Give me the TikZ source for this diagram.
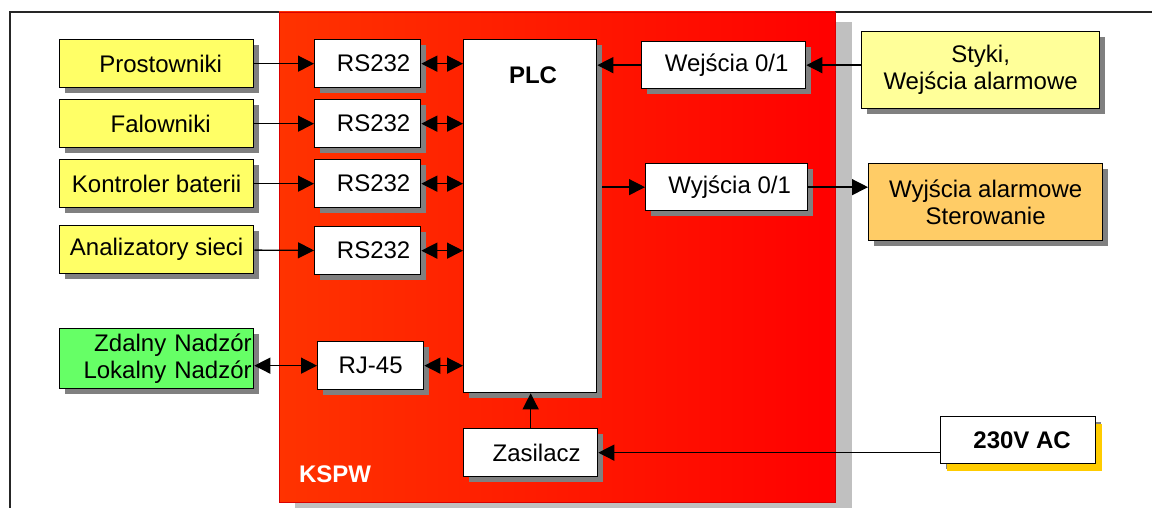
\documentclass[tikz,border=0pt]{standalone}
\usepackage{fontspec}
\setmainfont{Liberation Sans}
\usetikzlibrary{arrows.meta,shadows}
\definecolor{ylw}{HTML}{FFFF66}
\definecolor{ylwpale}{HTML}{FFFF99}
\definecolor{grn}{HTML}{66FF66}
\definecolor{orng}{HTML}{FFCC66}
\definecolor{shgray}{HTML}{808080}
\definecolor{lgray}{HTML}{C0C0C0}
\definecolor{goldsh}{HTML}{FFCC00}
\definecolor{redA}{HTML}{FF3300}
\definecolor{redB}{HTML}{FF0000}
\begin{document}
\begin{tikzpicture}[x=1pt,y=-1pt,
  box/.style={draw=black, line width=1.3pt, fill=white, anchor=north west,
    inner sep=0pt, align=center, font=\fontsize{24}{27}\selectfont,
    drop shadow={shadow xshift=5pt, shadow yshift=-5pt, fill=shgray, opacity=1}},
  ybox/.style={box, fill=ylw},
  conn/.style={line width=1.3pt, -{Triangle[length=16pt,width=16pt]}},
  biconn/.style={line width=1.3pt, {Triangle[length=16pt,width=16pt]}-{Triangle[length=16pt,width=16pt]}}
]
\useasboundingbox (0,0) rectangle (1152,508);
\begin{scope}
\clip (0,0) rectangle (1152,508);
\draw[line width=1.5pt, black!85] (10,12) rectangle (1200,600);
\fill[lgray] (295,22) rectangle (852,520);
\shade[left color=redA, right color=redB, draw=red!85!black, line width=0.6pt] (279,12) rectangle (835,502);
\end{scope}

\node[ybox, minimum width=194pt, minimum height=48pt] (p1) at (59,39) {\hspace{8pt}Prostowniki};
\node[ybox, minimum width=194pt, minimum height=48pt] (p2) at (59,99) {\hspace{8pt}Falowniki};
\node[ybox, minimum width=194pt, minimum height=48pt] (p3) at (59,159) {Kontroler baterii};
\node[ybox, minimum width=194pt, minimum height=48pt] (p4) at (59,225) {Analizatory sieci};
\node[box, fill=grn, minimum width=194pt, minimum height=60pt, align=right, text width=190pt] (g) at (59,328) {Zdalny Nadzór\\Lokalny Nadzór};

\node[box, minimum width=106pt, minimum height=48pt] (r1) at (314,39) {\hspace{12pt}RS232};
\node[box, minimum width=106pt, minimum height=48pt] (r2) at (314,99) {\hspace{12pt}RS232};
\node[box, minimum width=106pt, minimum height=48pt] (r3) at (314,159) {\hspace{12pt}RS232};
\node[box, minimum width=106pt, minimum height=48pt] (r4) at (314,226) {\hspace{12pt}RS232};
\node[box, minimum width=106pt, minimum height=48pt] (rj) at (317,341) {RJ-45};

\node[box, minimum width=133pt, minimum height=353pt] (plc) at (463,39) {};
\node[font=\fontsize{24}{27}\selectfont\bfseries, inner sep=0pt] (plclabel) at (533,75) {PLC};

\node[box, minimum width=164pt, minimum height=47pt] (wej) at (641,41) {\hspace{6pt}Wejścia 0/1};
\node[box, minimum width=162pt, minimum height=47pt] (wyj) at (645,163) {\hspace{6pt}Wyjścia 0/1};
\node[box, fill=ylwpale, minimum width=238pt, minimum height=77pt] (sty) at (861,31) {Styki,\\Wejścia alarmowe};
\node[box, fill=orng, minimum width=234pt, minimum height=77pt] (alm) at (868,163) {Wyjścia alarmowe\\Sterowanie};

\node[box, minimum width=134pt, minimum height=48pt] (zas) at (463,428) {\hspace{12pt}Zasilacz};
\node[box, font=\fontsize{24}{27}\selectfont\bfseries, minimum width=155pt, minimum height=47pt,
  drop shadow={shadow xshift=6pt, shadow yshift=-7pt, fill=goldsh, opacity=1}] (v230) at (940,416) {\hspace{8pt}230V AC};

\node[font=\fontsize{24}{27}\selectfont\bfseries, text=white, inner sep=0pt] (kspw) at (335,474) {KSPW};

\draw[conn] (p1) -- (r1);
\draw[conn] (p2) -- (r2);
\draw[conn] (p3) -- (r3);
\draw[conn] (p4) -- (r4);
\draw[biconn] (g.east |- rj.west) -- (rj.west);
\draw[biconn] (r1.east) -- (r1.east -| plc.west);
\draw[biconn] (r2.east) -- (r2.east -| plc.west);
\draw[biconn] (r3.east) -- (r3.east -| plc.west);
\draw[biconn] (r4.east) -- (r4.east -| plc.west);
\draw[biconn] (rj.east) -- (rj.east -| plc.west);
\draw[conn] (sty.west |- wej.east) -- (wej.east);
\draw[conn] (wej.west) -- (wej.west -| plc.east);
\coordinate (po) at ([xshift=5pt]plc.east |- wyj.west);
\draw[conn] (po) -- (wyj.west);
\draw[conn] (wyj.east) -- (wyj.east -| alm.west);
\draw[conn] (zas.north) -- (zas.north |- plc.south);
\draw[conn] (v230.west |- zas.east) -- (zas.east);
\end{tikzpicture}
\end{document}
